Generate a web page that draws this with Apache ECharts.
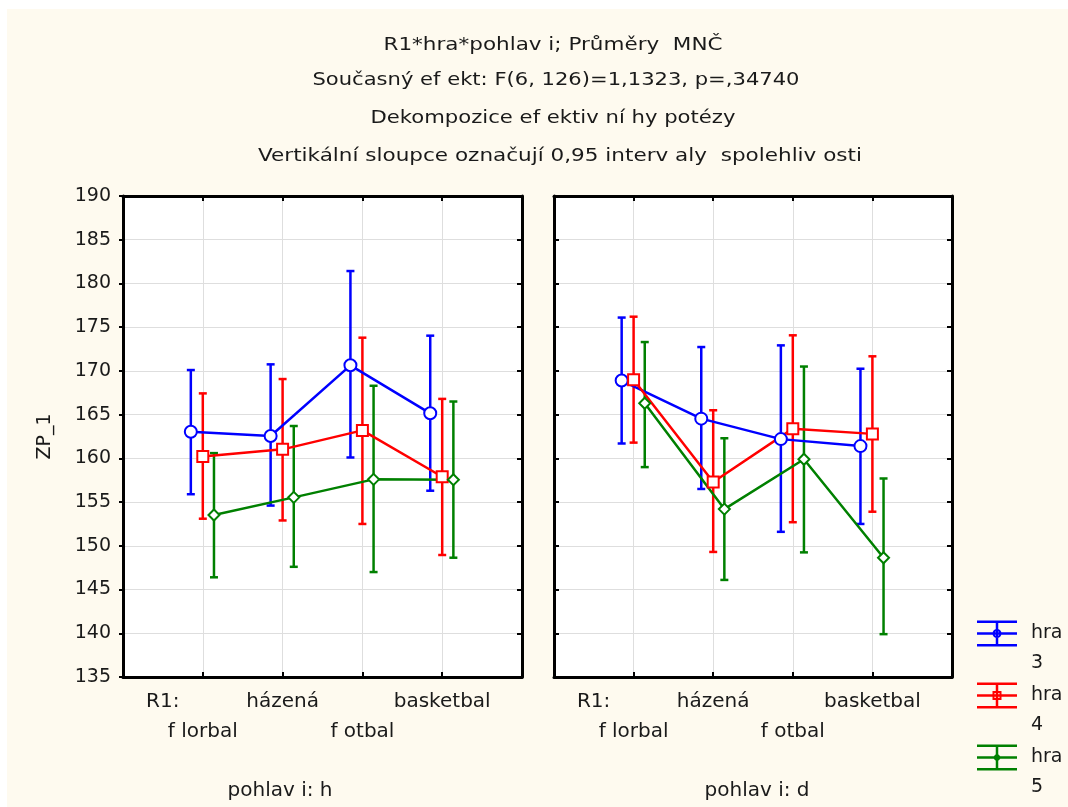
<!DOCTYPE html>
<html><head><meta charset="utf-8">
<script src="https://cdn.jsdelivr.net/npm/echarts@6/dist/echarts.min.js"></script>
<style>
html,body{margin:0;padding:0;background:#ffffff;}
#bg{position:absolute;left:7px;top:9px;width:1061px;height:798px;background:#fefaef;}
#chart{position:absolute;left:0;top:0;width:1068px;height:807px;}
</style></head><body><div id="bg"></div><div id="chart"></div>
<script>
// ---------------- data ----------------
const categories = ['f lorbal', 'házená', 'f otbal', 'basketbal'];
const groups = ['hra 3', 'hra 4', 'hra 5'];
const panels = ['pohlav i: h', 'pohlav i: d'];
const yMin = 135, yMax = 190, yStep = 5;
const yAxisName = 'ZP_1';
const axisPrefix = 'R1:';
const titleLines = [
  'R1*hra*pohlav i; Průměry  MNČ',
  'Současný ef ekt: F(6, 126)=1,1323, p=,34740',
  'Dekompozice ef ektiv ní hy potézy',
  'Vertikální sloupce označují 0,95 interv aly  spolehliv osti'
];

// pohlaví h
const h_hra3_mean = [163.05, 162.56, 170.64, 165.15];
const h_hra3_low  = [155.9, 154.6, 160.1, 156.3];
const h_hra3_high = [170.1, 170.75, 181.42, 174.03];
const h_hra4_mean = [160.2, 161.03, 163.2, 157.9];
const h_hra4_low  = [153.1, 152.9, 152.5, 148.95];
const h_hra4_high = [167.43, 169.07, 173.8, 166.8];
const h_hra5_mean = [153.52, 155.54, 157.6, 157.56];
const h_hra5_low  = [146.4, 147.6, 147.0, 148.64];
const h_hra5_high = [160.6, 163.7, 168.3, 166.5];
// pohlaví d
const d_hra3_mean = [168.9, 164.54, 162.2, 161.4];
const d_hra3_low  = [161.7, 156.5, 151.6, 152.5];
const d_hra3_high = [176.1, 172.73, 172.92, 170.25];
const d_hra4_mean = [169.0, 157.3, 163.4, 162.8];
const d_hra4_low  = [161.8, 149.3, 152.7, 153.9];
const d_hra4_high = [176.2, 165.5, 174.07, 171.67];
const d_hra5_mean = [166.3, 154.2, 159.9, 148.64];
const d_hra5_low  = [159.0, 146.1, 149.25, 139.9];
const d_hra5_high = [173.3, 162.3, 170.5, 157.7];

// ---------------- assembly ----------------
const panelData = [
  [
    {mean: h_hra3_mean, low: h_hra3_low, high: h_hra3_high},
    {mean: h_hra4_mean, low: h_hra4_low, high: h_hra4_high},
    {mean: h_hra5_mean, low: h_hra5_low, high: h_hra5_high}
  ],
  [
    {mean: d_hra3_mean, low: d_hra3_low, high: d_hra3_high},
    {mean: d_hra4_mean, low: d_hra4_low, high: d_hra4_high},
    {mean: d_hra5_mean, low: d_hra5_low, high: d_hra5_high}
  ]
];

const FONT = '"DejaVu Sans", "Liberation Sans", Arial, sans-serif';
const colors = ['#0000ff', '#ff0000', '#008000'];
const symbols = ['emptyCircle', 'emptyRect', 'emptyDiamond'];
const symbolSizes = [12, 11, 11];
const groupOffset = [-0.15, 0, 0.14];
const LW = 2.5;

const gridBoxes = [
  {left: 123, top: 196, width: 399, height: 481},
  {left: 554, top: 196, width: 398, height: 481}
];

const frameLine = {show: true, onZero: false, lineStyle: {color: '#000', width: 3}};
const gridLine = {show: true, lineStyle: {color: '#dedede', width: 1}};

function xLabelFormatter(v) {
  const i = Math.round(v) - 1;
  if (Math.abs(v - Math.round(v)) > 1e-6 || i < 0 || i >= categories.length) return '';
  if (i === 0) return '{r|' + axisPrefix + '}\n' + categories[i];
  if (i % 2 === 0) return ' \n' + categories[i];
  return categories[i];
}

const xAxes = [], yAxes = [];
gridBoxes.forEach((g, p) => {
  xAxes.push({
    gridIndex: p, type: 'value', min: 0, max: categories.length + 1, interval: 1, position: 'bottom',
    axisLine: frameLine,
    axisTick: {show: true, inside: true, length: 5, lineStyle: {color: '#000', width: 2}},
    splitLine: gridLine,
    axisLabel: {
      show: true, margin: 10, formatter: xLabelFormatter,
      fontFamily: FONT, fontSize: 20, color: '#1a1a1a', lineHeight: 30,
      rich: {r: {fontFamily: FONT, fontSize: 20, color: '#1a1a1a', lineHeight: 30, padding: [0, 80, 0, 0]}}
    }
  });
  xAxes.push({
    gridIndex: p, type: 'value', min: 0, max: categories.length + 1, interval: 1, position: 'top',
    axisLine: frameLine,
    axisTick: {show: true, inside: true, length: 5, lineStyle: {color: '#000', width: 2}},
    splitLine: {show: false}, axisLabel: {show: false}
  });
  yAxes.push({
    gridIndex: p, type: 'value', min: yMin, max: yMax, interval: yStep, position: 'left',
    axisLine: frameLine,
    axisTick: {show: true, inside: p === 1, length: p === 0 ? 4 : 5, lineStyle: {color: '#000', width: 2}},
    splitLine: gridLine,
    axisLabel: {show: p === 0, margin: 12, fontFamily: FONT, fontSize: 19, color: '#1a1a1a'},
    name: p === 0 ? yAxisName : '',
    nameLocation: 'middle', nameRotate: 90, nameGap: 68,
    nameTextStyle: {fontFamily: FONT, fontSize: 19, color: '#1a1a1a'}
  });
  yAxes.push({
    gridIndex: p, type: 'value', min: yMin, max: yMax, interval: yStep, position: 'right',
    axisLine: frameLine,
    axisTick: {show: true, inside: true, length: 5, lineStyle: {color: '#000', width: 2}},
    splitLine: {show: false}, axisLabel: {show: false}
  });
});

const series = [];
panelData.forEach((pd, p) => {
  pd.forEach((s, k) => {
    const xs = categories.map((c, i) => i + 1 + groupOffset[k]);
    series.push({
      name: groups[k], type: 'custom', xAxisIndex: p * 2, yAxisIndex: p * 2, z: 2,
      itemStyle: {color: colors[k]},
      data: xs.map((x, i) => [x, s.low[i], s.high[i]]),
      encode: {x: 0, y: [1, 2]},
      renderItem: function (params, api) {
        const x = api.value(0);
        const lo = api.coord([x, api.value(1)]);
        const hi = api.coord([x, api.value(2)]);
        const st = {stroke: colors[k], lineWidth: LW};
        const cw = 4;
        return {type: 'group', children: [
          {type: 'line', shape: {x1: lo[0], y1: lo[1], x2: hi[0], y2: hi[1]}, style: st},
          {type: 'line', shape: {x1: hi[0] - cw, y1: hi[1], x2: hi[0] + cw, y2: hi[1]}, style: st},
          {type: 'line', shape: {x1: lo[0] - cw, y1: lo[1], x2: lo[0] + cw, y2: lo[1]}, style: st}
        ]};
      },
      silent: true
    });
    series.push({
      name: groups[k], type: 'line', xAxisIndex: p * 2, yAxisIndex: p * 2, z: 3,
      data: xs.map((x, i) => [x, s.mean[i]]),
      symbol: symbols[k], symbolSize: symbolSizes[k], showSymbol: true,
      lineStyle: {color: colors[k], width: LW},
      itemStyle: {color: colors[k], borderColor: colors[k], borderWidth: LW},
      emphasis: {disabled: true}, animation: false
    });
  });
});

// legend icons (error-bar glyphs)
const crossbar = 'M0 0H40V2.5H0Z M0 11.75H40V14.25H0Z M0 23.5H40V26H0Z M18.75 0H21.25V26H18.75Z ';
const legendIcons = [
  'path://' + crossbar + 'M24.5 13A4.5 4.5 0 1 1 15.5 13A4.5 4.5 0 1 1 24.5 13Z M22.5 13A2.5 2.5 0 1 0 17.5 13A2.5 2.5 0 1 0 22.5 13Z',
  'path://' + crossbar + 'M15.5 8.5H24.5V17.5H15.5Z M17.5 10.5V15.5H22.5V10.5Z',
  'path://' + crossbar + 'M20 8.5L24.5 13L20 17.5L15.5 13Z'
];
const legendCenters = [632, 694, 756];
const legends = groups.map((g, k) => ({
  data: [{name: g, icon: legendIcons[k], itemStyle: {color: colors[k], borderWidth: 0}}],
  left: 977, top: legendCenters[k] - 38, padding: 0, orient: 'vertical',
  itemWidth: 40, itemHeight: 26, selectedMode: false,
  itemStyle: {color: colors[k], borderWidth: 0},
  formatter: function (name) {
    const parts = name.split(' ');
    return '{t| }\n{t|' + parts[0] + '}\n{t|' + parts[1] + '}';
  },
  textStyle: {fontFamily: FONT, fontSize: 19, color: '#1a1a1a',
    rich: {t: {fontFamily: FONT, fontSize: 19, color: '#1a1a1a', lineHeight: 30, padding: [0, 0, 0, 9]}}}
}));

// title lines, horizontally stretched like the original
const mctx = document.createElement('canvas').getContext('2d');
const titleFontSize = 18;
mctx.font = titleFontSize + 'px ' + FONT;
const titleCenters = [[553, 45], [556, 80], [553, 118], [560, 156]];
const titleWidths = [339, 487, 365, 604];
const graphics = titleLines.map((t, i) => {
  const w = mctx.measureText(t).width;
  return {
    type: 'text', x: titleCenters[i][0], y: titleCenters[i][1], scaleX: titleWidths[i] / w, scaleY: 1,
    silent: true,
    style: {text: t, fontFamily: FONT, fontSize: titleFontSize, fill: '#1a1a1a',
      align: 'center', verticalAlign: 'middle', textAlign: 'center', textVerticalAlign: 'middle'}
  };
});
const panelLabelCenters = [[280, 791], [757, 791]];
panels.forEach((t, i) => {
  graphics.push({
    type: 'text', x: panelLabelCenters[i][0], y: panelLabelCenters[i][1], silent: true,
    style: {text: t, fontFamily: FONT, fontSize: 20, fill: '#1a1a1a',
      align: 'center', verticalAlign: 'middle', textAlign: 'center', textVerticalAlign: 'middle'}
  });
});

const chart = echarts.init(document.getElementById('chart'), null, {renderer: 'canvas'});
chart.setOption({
  backgroundColor: 'transparent',
  animation: false,
  color: colors,
  grid: gridBoxes.map(g => Object.assign({show: true, backgroundColor: '#ffffff', borderWidth: 0, outerBoundsMode: 'none', containLabel: false}, g)),
  xAxis: xAxes,
  yAxis: yAxes,
  legend: legends,
  graphic: graphics,
  series: series
});
</script></body></html>
